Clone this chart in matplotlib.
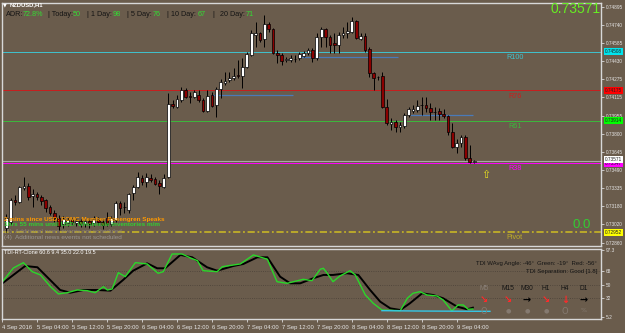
import matplotlib
matplotlib.use("Agg")
import matplotlib.pyplot as plt
import matplotlib.transforms as mtransforms
import numpy as np

plt.rcParams['font.family'] = ['Liberation Sans', 'DejaVu Sans']

# NZDUSD H1 bars, 4 Sep 21:00 .. 9 Sep 08:00
opens = [0.72990, 0.73041, 0.73231, 0.73214, 0.73334, 0.73352, 0.73266, 0.73283, 0.73257, 0.73231,
         0.73171, 0.73119, 0.73076, 0.73024, 0.73033, 0.73059, 0.73033, 0.73050, 0.73024, 0.73050,
         0.73033, 0.73059, 0.73041, 0.73076, 0.73024, 0.73059, 0.73205, 0.73171, 0.73145, 0.73291,
         0.73343, 0.73421, 0.73386, 0.73421, 0.73412, 0.73378, 0.73343, 0.73429, 0.74059, 0.74033,
         0.74093, 0.74179, 0.74128, 0.74119, 0.74136, 0.74093, 0.73998, 0.74136, 0.74050, 0.74188,
         0.74240, 0.74265, 0.74283, 0.74309, 0.74300, 0.74377, 0.74481, 0.74653, 0.74671, 0.74619,
         0.74748, 0.74705, 0.74498, 0.74481, 0.74438, 0.74438, 0.74446, 0.74455, 0.74472, 0.74498,
         0.74524, 0.74455, 0.74636, 0.74705, 0.74636, 0.74584, 0.74567, 0.74653, 0.74671, 0.74679,
         0.74774, 0.74619, 0.74645, 0.74533, 0.74326, 0.74291, 0.74300, 0.74033, 0.73886, 0.73903,
         0.73860, 0.73869, 0.73964, 0.73998, 0.74007, 0.74050, 0.74050, 0.74024, 0.73990, 0.73998,
         0.73972, 0.73955, 0.73817, 0.73688, 0.73722, 0.73774, 0.73593, 0.73559]
highs = [0.73110, 0.73248, 0.73274, 0.73352, 0.73429, 0.73378, 0.73326, 0.73300, 0.73274, 0.73240,
         0.73188, 0.73145, 0.73102, 0.73093, 0.73084, 0.73076, 0.73076, 0.73067, 0.73067, 0.73076,
         0.73093, 0.73084, 0.73067, 0.73128, 0.73093, 0.73222, 0.73222, 0.73214, 0.73291, 0.73360,
         0.73472, 0.73447, 0.73464, 0.73455, 0.73429, 0.73403, 0.73455, 0.74153, 0.74093, 0.74136,
         0.74205, 0.74196, 0.74162, 0.74179, 0.74179, 0.74110, 0.74179, 0.74162, 0.74205, 0.74274,
         0.74334, 0.74334, 0.74369, 0.74438, 0.74455, 0.74507, 0.74696, 0.74765, 0.74679, 0.74826,
         0.74765, 0.74714, 0.74524, 0.74498, 0.74464, 0.74481, 0.74481, 0.74507, 0.74515, 0.74541,
         0.74541, 0.74671, 0.74722, 0.74714, 0.74653, 0.74671, 0.74679, 0.74722, 0.74765, 0.74808,
         0.74783, 0.74671, 0.74671, 0.74550, 0.74334, 0.74300, 0.74334, 0.74102, 0.73938, 0.73921,
         0.73903, 0.73981, 0.74033, 0.74050, 0.74093, 0.74119, 0.74119, 0.74067, 0.74033, 0.74024,
         0.74015, 0.73964, 0.73895, 0.73757, 0.73791, 0.73791, 0.73705, 0.73576]
lows = [0.72955, 0.73024, 0.73188, 0.73205, 0.73317, 0.73231, 0.73171, 0.73231, 0.73188, 0.73128,
        0.73102, 0.73041, 0.72972, 0.72990, 0.73007, 0.73016, 0.73007, 0.72998, 0.72998, 0.72990,
        0.73007, 0.73016, 0.72981, 0.73007, 0.73007, 0.73041, 0.73102, 0.73119, 0.73119, 0.73231,
        0.73334, 0.73360, 0.73343, 0.73386, 0.73360, 0.73283, 0.73334, 0.73421, 0.74024, 0.74024,
        0.74076, 0.74110, 0.74067, 0.74110, 0.74076, 0.73990, 0.73990, 0.74033, 0.73947, 0.74110,
        0.74222, 0.74248, 0.74265, 0.74283, 0.74196, 0.74369, 0.74472, 0.74550, 0.74593, 0.74550,
        0.74679, 0.74490, 0.74412, 0.74395, 0.74421, 0.74421, 0.74421, 0.74438, 0.74464, 0.74481,
        0.74421, 0.74438, 0.74550, 0.74550, 0.74498, 0.74498, 0.74498, 0.74627, 0.74627, 0.74671,
        0.74619, 0.74610, 0.74507, 0.74291, 0.74179, 0.74265, 0.74024, 0.73878, 0.73834, 0.73817,
        0.73817, 0.73852, 0.73947, 0.73981, 0.73990, 0.73964, 0.73990, 0.73921, 0.73921, 0.73921,
        0.73938, 0.73791, 0.73679, 0.73636, 0.73688, 0.73576, 0.73550, 0.73550]
closes = [0.73076, 0.73231, 0.73214, 0.73343, 0.73352, 0.73257, 0.73283, 0.73257, 0.73222, 0.73162,
          0.73119, 0.73076, 0.73007, 0.73067, 0.73059, 0.73041, 0.73050, 0.73024, 0.73050, 0.73024,
          0.73067, 0.73041, 0.73016, 0.73024, 0.73076, 0.73205, 0.73162, 0.73166, 0.73283, 0.73343,
          0.73429, 0.73386, 0.73429, 0.73403, 0.73369, 0.73352, 0.73421, 0.74059, 0.74041, 0.74102,
          0.74179, 0.74119, 0.74115, 0.74162, 0.74093, 0.73998, 0.74128, 0.74041, 0.74188, 0.74248,
          0.74257, 0.74283, 0.74300, 0.74296, 0.74377, 0.74490, 0.74671, 0.74671, 0.74610, 0.74748,
          0.74705, 0.74498, 0.74481, 0.74429, 0.74446, 0.74455, 0.74449, 0.74490, 0.74498, 0.74524,
          0.74455, 0.74636, 0.74705, 0.74636, 0.74567, 0.74563, 0.74653, 0.74671, 0.74688, 0.74774,
          0.74627, 0.74645, 0.74524, 0.74326, 0.74283, 0.74287, 0.74033, 0.73895, 0.73903, 0.73860,
          0.73878, 0.73964, 0.74015, 0.74015, 0.74041, 0.74048, 0.74024, 0.73990, 0.73987, 0.73972,
          0.73955, 0.73817, 0.73688, 0.73722, 0.73774, 0.73593, 0.73559, 0.73571]

time_labels = ["4 Sep 2016", "5 Sep 04:00", "5 Sep 12:00", "5 Sep 20:00", "6 Sep 04:00",
               "6 Sep 12:00", "6 Sep 20:00", "7 Sep 04:00", "7 Sep 12:00", "7 Sep 20:00",
               "8 Sep 04:00", "8 Sep 12:00", "8 Sep 20:00", "9 Sep 04:00"]
price_ticks = [0.74895, 0.74740, 0.74585, 0.74430, 0.74275, 0.74115, 0.73955,
               0.73800, 0.73645, 0.73490, 0.73335, 0.73180, 0.73020, 0.72860]

# fib levels
level_names = ["R100", "R76", "R61", "R38", "Pivot"]
level_prices = [0.74508, 0.74175, 0.73914, 0.73547, 0.72952]
level_colors = ["#3fc3cf", "#c81e1e", "#3cb83c", "#ff00ff", "#c0ae28"]
box_colors = ["#00e5ee", "#ff0000", "#00ff00", "#ff00ff", "#ffff00"]
current_price = 0.73571

# short blue lines (bar index start / end, price)
seg_start = [47.1, 67.2, 92.3]
seg_end = [65.6, 89.6, 106.7]
seg_price = [0.74136, 0.74464, 0.73964]

# TDI samples (bar index, value)
green_x = [-0.9, 1.6, 3.9, 5.9, 7.8, 10.1, 11.9, 13.9, 16.2, 18.5, 20.3, 22.2, 23.1, 24.2, 25.6,
           27.2, 29.5, 32.2, 34.7, 35.9, 37.9, 40.2, 42.1, 43.7, 45.0, 48.2, 49.4, 53.5, 56.5,
           59.7, 61.9, 64.2, 67.9, 69.9, 71.8, 72.5, 73.4, 74.7, 76.3, 78.6, 79.8, 82.1, 83.9,
           85.9, 90.1, 91.7, 93.0, 94.6, 96.2, 98.5, 99.9, 101.9, 103.3, 104.5, 105.6, 106.7]
green_v = [54.0, 72.7, 80.0, 67.7, 63.2, 47.2, 37.3, 39.0, 42.7, 41.8, 39.0, 47.2, 42.7, 44.1, 66.3,
           60.9, 80.0, 78.2, 65.5, 67.7, 91.8, 91.8, 86.4, 82.7, 69.0, 67.7, 74.5, 78.2, 90.5,
           84.6, 54.0, 51.8, 57.3, 55.4, 71.0, 72.3, 65.5, 54.0, 61.8, 69.0, 63.2, 35.9, 24.6,
           15.4, 14.5, 31.4, 38.2, 40.4, 35.9, 34.5, 29.1, 14.1, 22.3, 22.3, 16.4, 16.8]
black_x = [-0.9, 1.6, 4.3, 7.1, 9.4, 12.3, 14.6, 17.6, 20.8, 23.8, 26.7, 29.0, 32.2, 34.5, 36.3,
           39.8, 42.5, 45.9, 48.2, 51.9, 54.2, 57.4, 59.7, 62.6, 64.9, 67.2, 70.2, 72.5, 74.7,
           77.9, 80.5, 83.2, 85.5, 87.8, 90.1, 92.3, 95.1, 97.6, 99.9, 103.1, 105.4, 106.7]
black_v = [51.8, 63.2, 75.4, 73.7, 60.0, 42.7, 39.0, 42.7, 42.7, 41.8, 56.4, 69.0, 79.1, 72.3, 72.3,
           90.5, 87.3, 73.7, 69.0, 75.4, 78.2, 87.3, 87.3, 60.9, 51.8, 51.8, 58.7, 63.2, 63.2,
           65.5, 63.2, 42.7, 26.8, 17.7, 15.4, 24.6, 38.2, 35.9, 31.4, 19.9, 16.4, 18.6]
cyan_x = [85.9, 95.0, 110.6]
cyan_v = [14.5, 14.0, 13.6]
tdi_levels = [68, 50, 32]
tdi_ticks = [97.3, 68, 50, 32, 5.2]

tf_names = ["M5", "M15", "M30", "H1", "H4", "D1"]
tf_arrows = ["↘", "↘", "→", "↘", "↓", "→"]
tf_colors = ["#ff2a2a", "#ff2a2a", "#000000", "#ff2a2a", "#ff2a2a", "#000000"]
tf_marks = ["O", "●", "●", "●", "O", "%"]

BG = "#6a5c4c"
FRAME = "#d8d8d8"
W, H = 625, 333
AXFS = 3.4


def box(l, t, r, b):
    return [l / W, 1 - b / H, (r - l) / W, (b - t) / H]


def ftext(px, py, s, **kw):
    fig.text(px / W, 1 - py / H, s, va='center', **kw)


fig = plt.figure(figsize=(W / 100, H / 100), dpi=100)
fig.patch.set_facecolor(BG)

ax = fig.add_axes(box(2, 3, 601, 246))
ax2 = fig.add_axes(box(2, 249, 601, 319), sharex=ax)
for a in (ax, ax2):
    a.set_facecolor(BG)
    for s in a.spines.values():
        s.set_color(FRAME)
        s.set_linewidth(1.0)

# candles
x = np.arange(len(opens))
o, hi, lo, c = (np.array(v) for v in (opens, highs, lows, closes))
up = c >= o
ax.vlines(x, lo, hi, color='black', lw=0.7, zorder=3)
body = np.maximum(np.abs(c - o), 0.00002)
ax.bar(x[up], body[up], bottom=o[up], width=0.62, color='white',
       edgecolor='black', lw=0.5, zorder=4)
ax.bar(x[~up], body[~up], bottom=c[~up], width=0.62, color='#8b0000',
       edgecolor='black', lw=0.5, zorder=4)

# levels
for name, p, col in zip(level_names, level_prices, level_colors):
    if name == "Pivot":
        ax.axhline(p, color=col, lw=1.3, ls=(0, (4, 1.5, 1, 1.5)), zorder=2)
    else:
        ax.axhline(p, color=col, lw=0.7, zorder=2)
    ax.annotate(name, (116.3, p), xytext=(0, -1.5), textcoords='offset points',
                ha='center', va='top', color=col, fontsize=5.2)
ax.axhline(current_price, color='#a8a8a8', lw=0.8, zorder=2)
ax.hlines(seg_price, seg_start, seg_end, color='#4a7ab8', lw=0.9, zorder=2)

ax.text(109.7, 0.73447, "⇧", color='#e8e020', fontsize=8, ha='center', va='center',
        family=['DejaVu Sans'])

ax.set_xlim(-0.91, 136.0)
ax.set_ylim(0.72834, 0.74929)

ax.yaxis.tick_right()
ax.set_yticks(price_ticks)
ax.set_yticklabels([f"{p:.5f}" for p in price_ticks])
ax.tick_params(axis='y', colors=FRAME, labelcolor='#e6e6e6', labelsize=AXFS,
               length=2, width=0.6, pad=1.2)
ax.tick_params(axis='x', bottom=False, labelbottom=False)

ytr = mtransforms.blended_transform_factory(ax.transAxes, ax.transData)
for p, bc in zip(level_prices, box_colors):
    ax.text(1.006, p, f"{p:.5f}", transform=ytr, fontsize=AXFS, color='#202020',
            va='center', ha='left', bbox=dict(fc=bc, ec='none', pad=0.6), clip_on=False)
ax.text(1.006, current_price + 0.00009, f"{current_price:.5f}", transform=ytr,
        fontsize=AXFS, color='#202020', va='center', ha='left',
        bbox=dict(fc='white', ec='none', pad=0.6), clip_on=False)

# TDI window
for lv in tdi_levels:
    ax2.axhline(lv, color='#4a4038', lw=0.6, ls=':')
ax2.plot(black_x, black_v, color='black', lw=1.4)
ax2.plot(green_x, green_v, color='#2ad82a', lw=1.0)
ax2.plot(cyan_x, cyan_v, color='#35c8e8', lw=1.0)
ax2.set_ylim(3.15, 98.6)
ax2.yaxis.tick_right()
ax2.set_yticks(tdi_ticks)
ax2.set_yticklabels(["97.3", "68", "50", "32", "5.2"])
ax2.tick_params(axis='y', colors=FRAME, labelcolor='#e6e6e6', labelsize=AXFS,
                length=2, width=0.6, pad=1.2)
ax2.set_xticks(np.arange(-1, 104, 8))
ax2.set_xticklabels(time_labels, ha='left')
ax2.tick_params(axis='x', colors=FRAME, labelcolor='#e6e6e6', labelsize=4.2,
                length=2, width=0.6, pad=2)

# header texts
ftext(3, 5, "▼", color='white', fontsize=3.5, family=['DejaVu Sans'])
ftext(10, 5, "NZDUSD,H1", color='white', fontsize=4.2, weight='bold')
dark = '#141414'
lime = '#33dd33'
for px, s, col in [(6, "ADR:", dark), (23, "72.8%", lime), (48, "| Today:", dark),
                   (73, "50", lime), (87, "| 1 Day:", dark), (113, "98", lime),
                   (127, "| 5 Day:", dark), (153, "76", lime), (167, "| 10 Day:", dark),
                   (198, "67", lime), (212, "|", dark), (220, "20 Day:", dark), (246, "71", lime)]:
    ftext(px, 14, s, color=col, fontsize=5.2)
ftext(601, 9, "0.73571", color='#66ee22', fontsize=10, ha='right')
ftext(591, 225, "0.0", color='#33cc33', fontsize=9.5, ha='right')

# news lines
ftext(4, 219, "2 mins since USD: FOMC Member Rosengren Speaks", color='#ff9900',
      fontsize=4.6, weight='bold')
ftext(4, 225, "1hrs 55 mins until USD: Wholesale Inventories m/m", color='#33cc33',
      fontsize=4.6, weight='bold')
ftext(4, 232, "(4)  Additional news events not scheduled", color='#8a8078', fontsize=4.6)
ftext(4, 238, "(4)  Additional news events not scheduled", color='#9a9590', fontsize=4.6)

# TDI annotations
ftext(4, 252, "TDI-RT-Clone 60.6 9.4 35.0 22.0 19.5", color='white', fontsize=4.0)
ftext(597, 264, "TDI WAvg Angle: -46°  Green: -19°  Red: -56°", color=dark,
      fontsize=4.3, ha='right')
ftext(597, 271, "TDI Separation: Good [1.8]", color=dark, fontsize=4.3, ha='right')
tf_x = [484, 508, 527, 546, 565, 584]
for px, n, arw, ac, mk in zip(tf_x, tf_names, tf_arrows, tf_colors, tf_marks):
    ftext(px, 288, n, color='#8a8078' if n == "M5" else dark, fontsize=4.8, ha='center')
    ftext(px, 300, arw, color=ac, fontsize=7, ha='center', weight='bold',
          family=['DejaVu Sans'])
    ftext(px, 311, mk, color='#857a70', fontsize=6 if mk == "O" else 4.5, ha='center',
          family=['DejaVu Sans'])

fig.savefig("out.png", dpi=100, facecolor=BG)
